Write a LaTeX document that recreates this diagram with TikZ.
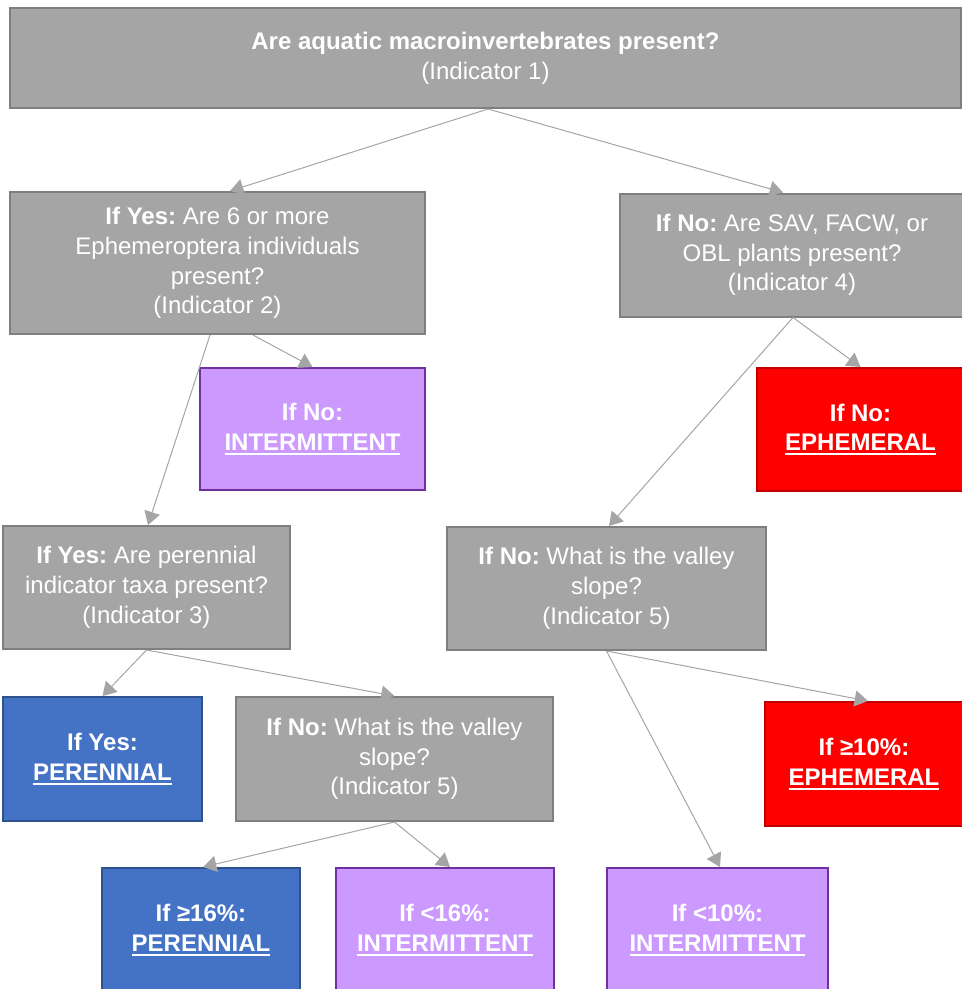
\documentclass[tikz,border=0pt]{standalone}
\usepackage{fontspec}
\setmainfont{Liberation Sans}
\frenchspacing
\usetikzlibrary{arrows.meta,calc}

\definecolor{boxgray}{RGB}{165,165,165}
\definecolor{edgegray}{RGB}{127,127,127}
\definecolor{intfill}{RGB}{204,153,255}
\definecolor{intedge}{RGB}{112,48,160}
\definecolor{ephfill}{RGB}{255,0,0}
\definecolor{ephedge}{RGB}{192,0,0}
\definecolor{perfill}{RGB}{68,114,196}
\definecolor{peredge}{RGB}{47,82,143}

% bold, underlined verdict word
\newcommand{\verdict}[1]{{\bfseries\setbox0=\hbox{#1}\rlap{\rule[-3.3pt]{\wd0}{1.4pt}}\box0}}

\begin{document}
\begin{tikzpicture}[x=0.75pt,y=0.75pt,yscale=-1,
  sized/.style 2 args={minimum width=#1*0.75pt, minimum height=#2*0.75pt},
  box/.style={rectangle, line width=1.5pt, text=white, align=center, inner sep=0pt,
    font=\fontsize{18}{22.3}\selectfont},
  qbox/.style={box, fill=boxgray, draw=edgegray},
  intbox/.style={box, fill=intfill, draw=intedge},
  ephbox/.style={box, fill=ephfill, draw=ephedge},
  perbox/.style={box, fill=perfill, draw=peredge},
  link/.style={draw=boxgray, line width=0.75pt, -{Triangle[length=10pt,width=12pt]}}]
	\useasboundingbox (0,0) rectangle (962,989);

	%Shape: Question boxes
	\node [qbox, sized={951}{100}] (q1) at (485.5,58) {\textbf{Are aquatic macroinvertebrates present?}\\(Indicator 1)};
	\node [qbox, sized={415}{142}] (q2) at (217.5,263) {\textbf{If Yes:} Are 6 or more\\Ephemeroptera individuals\\present?\\(Indicator 2)};
	\node [qbox, sized={344}{123}] (q4) at (792,255) {\textbf{If No:} Are SAV, FACW, or\\OBL plants present?\\(Indicator 4)};
	\node [qbox, sized={287}{123}] (q3) at (146.5,587.5) {\textbf{If Yes:} Are perennial\\indicator taxa present?\\(Indicator 3)};
	\node [qbox, sized={319}{123}] (q5a) at (606.5,588.5) {\textbf{If No:} What is the valley\\slope?\\(Indicator 5)};
	\node [qbox, sized={317}{124}] (q5b) at (394.5,759) {\textbf{If No:} What is the valley\\slope?\\(Indicator 5)};

	%Shape: Result boxes
	\node [intbox, sized={225}{122}] (int1) at (312.5,429) {\textbf{If No:}\\\verdict{INTERMITTENT}};
	\node [ephbox, sized={207}{123}] (eph1) at (860.5,429.5) {\textbf{If No:}\\\verdict{EPHEMERAL}};
	\node [perbox, sized={199}{124}] (per1) at (102.5,759) {\textbf{If Yes:}\\\verdict{PERENNIAL}};
	\node [ephbox, sized={199}{124}] (eph2) at (864,764) {\textbf{If ≥10\%:}\\\verdict{EPHEMERAL}};
	\node [perbox, sized={198}{124}] (per2) at (201,930) {\textbf{If ≥16\%:}\\\verdict{PERENNIAL}};
	\node [intbox, sized={218}{124}] (int2) at (445,930) {\textbf{If <16\%:}\\\verdict{INTERMITTENT}};
	\node [intbox, sized={221}{124}] (int3) at (717.5,930) {\textbf{If <10\%:}\\\verdict{INTERMITTENT}};

	%Straight Lines
	\draw [link] ($(q1.south)+(2.5,0)$) -- ($(q2.north)+(12.5,0)$);
	\draw [link] ($(q1.south)+(2.5,0)$) -- ($(q4.north)+(-9,0)$);
	\draw [link] ($(q2.south)+(-7.5,0)$) -- ($(q3.north)+(1.5,0)$);
	\draw [link] ($(q2.south)+(35.5,0)$) -- (int1.north);
	\draw [link] ($(q4.south)+(1,0)$) -- ($(q5a.north)+(2.5,0)$);
	\draw [link] ($(q4.south)+(1,0)$) -- (eph1.north);
	\draw [link] (q3.south) -- (per1.north);
	\draw [link] (q3.south) -- (q5b.north);
	\draw [link] (q5a.south) -- ($(int3.north)+(2.5,0)$);
	\draw [link] (q5a.south) -- ($(eph2.north)+(4,0)$);
	\draw [link] (q5b.south) -- ($(per2.north)+(2,0)$);
	\draw [link] (q5b.south) -- ($(int2.north)+(5,0)$);

\end{tikzpicture}
\end{document}
